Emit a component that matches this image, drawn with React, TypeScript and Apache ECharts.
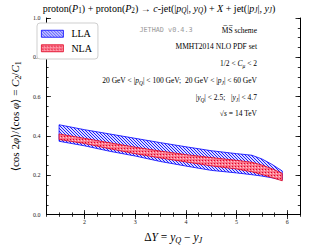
import React, { useEffect, useRef } from 'react';
import * as echarts from 'echarts';

const deltaY = [1.5, 2.0, 2.5, 3.0, 3.5, 4.0, 4.5, 5.0, 5.3, 5.5, 5.7, 5.9];
const llaHigh = [0.457, 0.432, 0.410, 0.388, 0.366, 0.345, 0.325, 0.310, 0.302, 0.283, 0.255, 0.222];
const llaLow = [0.373, 0.350, 0.322, 0.298, 0.270, 0.247, 0.225, 0.212, 0.203, 0.196, 0.187, 0.176];
const nlaHigh = [0.410, 0.388, 0.365, 0.343, 0.323, 0.305, 0.290, 0.276, 0.266, 0.252, 0.233, 0.210];
const nlaLow = [0.382, 0.362, 0.335, 0.310, 0.288, 0.268, 0.248, 0.232, 0.218, 0.204, 0.188, 0.172];
const seriesNames = ['LLA', 'NLA'];
const xMajor = [2, 3, 4, 5, 6];
const yMajor = [0, 0.2, 0.4, 0.6, 0.8, 1.0];
const xMinor = [1.25, 1.5, 1.75, 2, 2.25, 2.5, 2.75, 3, 3.25, 3.5, 3.75, 4, 4.25, 4.5, 4.75, 5, 5.25, 5.5, 5.75, 6, 6.25];
const yMinor = [0, 0.05, 0.1, 0.15, 0.2, 0.25, 0.3, 0.35, 0.4, 0.45, 0.5, 0.55, 0.6, 0.65, 0.7, 0.75, 0.8, 0.85, 0.9, 0.95, 1.0];

const FONT = '"Liberation Serif", "DejaVu Serif", serif';

function makeTile(kind: string): string {
  const c = document.createElement('canvas');
  const n = 3;
  c.width = n; c.height = n;
  const ctx = c.getContext('2d')!;
  if (kind === 'blue') {
    ctx.fillStyle = 'rgb(220,220,255)';
    ctx.fillRect(0, 0, n, n);
    ctx.fillStyle = 'rgb(30,30,255)';
    for (let i = 0; i < n; i++) ctx.fillRect(i, i, 1, 1);
  } else {
    ctx.fillStyle = 'rgb(250,120,140)';
    ctx.fillRect(0, 0, n, n);
    ctx.fillStyle = 'rgb(225,0,40)';
    ctx.fillRect(1, 1, 1, 1);
    ctx.fillStyle = 'rgb(255,200,210)';
    ctx.fillRect(0, 2, 1, 1);
  }
  return c.toDataURL();
}

function richDefs(size: number) {
  const sub = Math.round(size * 0.72 * 10) / 10;
  return {
    i: { fontStyle: 'italic', fontWeight: 'normal', fontSize: size, fontFamily: FONT, color: '#000', fill: '#000', lineHeight: size + 3 },
    r: { fontStyle: 'normal', fontWeight: 'normal', fontSize: size, fontFamily: FONT, color: '#000', fill: '#000', lineHeight: size + 3 },
    s: { fontStyle: 'italic', fontWeight: 'normal', fontSize: sub, fontFamily: FONT, color: '#000', fill: '#000', verticalAlign: 'bottom', lineHeight: sub },
    n: { fontStyle: 'normal', fontWeight: 'normal', fontSize: sub, fontFamily: FONT, color: '#000', fill: '#000', verticalAlign: 'bottom', lineHeight: sub },
  };
}

function annot(text: string, x: number, y: number, size: number, align = 'right') {
  return {
    type: 'text',
    x, y,
    silent: true,
    style: {
      text,
      fontFamily: FONT,
      fontSize: size,
      fontWeight: 'normal',
      fill: '#000',
      lineHeight: size + 3,
      align, textAlign: align,
      verticalAlign: 'middle', textVerticalAlign: 'middle',
      rich: richDefs(size),
    },
  };
}

export default function App() {
  const ref = useRef<HTMLDivElement>(null);
  useEffect(() => {
    if (!ref.current) return;
    const chart = echarts.init(ref.current, undefined, { renderer: 'svg' });
    const blueFill: any = { image: makeTile('blue'), repeat: 'repeat', imageWidth: 3, imageHeight: 3 };
    const redFill: any = { image: makeTile('red'), repeat: 'repeat', imageWidth: 3, imageHeight: 3 };

    const band = (name: string, hi: number[], lo: number[], fill: any, stroke: string) => ({
      type: 'custom',
      name,
      xAxisIndex: 0,
      yAxisIndex: 0,
      data: [[deltaY[0], hi[0]]],
      renderItem: (_p: any, api: any) => {
        const pts: number[][] = [];
        for (let i = 0; i < deltaY.length; i++) pts.push(api.coord([deltaY[i], hi[i]]));
        for (let i = deltaY.length - 1; i >= 0; i--) pts.push(api.coord([deltaY[i], lo[i]]));
        return { type: 'polygon', shape: { points: pts }, style: { fill, stroke, lineWidth: 0.8 } };
      },
      itemStyle: { color: fill, borderColor: stroke },
    });

    const tickLabel = { fontFamily: FONT, fontSize: 6, color: '#222' };
    const baseX = (pos: string, show: boolean, major: boolean) => ({
      type: 'value', position: pos, min: 1.25, max: 6.25,
      axisLine: { show: !major, lineStyle: { color: '#000', width: 1 } },
      axisTick: { show: true, inside: true, length: major ? 4.5 : 2.2, customValues: major ? xMajor : xMinor, lineStyle: { color: '#000', width: 0.8 } },
      axisLabel: show ? { show: true, customValues: xMajor, margin: 4, ...tickLabel } : { show: false },
      splitLine: { show: false },
    });
    const baseY = (pos: string, show: boolean, major: boolean) => ({
      type: 'value', position: pos, min: 0, max: 1,
      axisLine: { show: !major, lineStyle: { color: '#000', width: 1 } },
      axisTick: { show: true, inside: true, length: major ? 4.5 : 2.2, customValues: major ? yMajor : yMinor, lineStyle: { color: '#000', width: 0.8 } },
      axisLabel: show ? { show: true, customValues: yMajor, margin: 6, formatter: (v: number) => v.toFixed(1), ...tickLabel } : { show: false },
      splitLine: { show: false },
    });

    const xAxes: any[] = [
      { ...baseX('bottom', true, false), name: '{r|Δ}{i|Y}{r| = }{i|y}{s|Q}{r| − }{i|y}{s|J}', nameLocation: 'middle', nameGap: 11,
        nameTextStyle: { fontFamily: FONT, fontSize: 11.5, fontWeight: 'normal', color: '#000', lineHeight: 14, rich: richDefs(11.5) } },
      baseX('bottom', false, true),
      baseX('top', false, false),
      baseX('top', false, true),
    ];
    const yAxes: any[] = [
      { ...baseY('left', true, false), name: '{r|⟨cos 2}{i|φ}{r|⟩/⟨cos }{i|φ}{r|⟩ = }{i|C}{n|2}{r|/}{i|C}{n|1}', nameLocation: 'middle', nameGap: 17, nameRotate: 90,
        nameTextStyle: { fontFamily: FONT, fontSize: 11, fontWeight: 'normal', color: '#000', lineHeight: 14, rich: richDefs(11) } },
      baseY('left', false, true),
      baseY('right', false, false),
      baseY('right', false, true),
    ];

    const option: any = {
      animation: false,
      backgroundColor: '#fff',
      grid: { left: 33, right: 16, top: 18, bottom: 31, containLabel: false },
      xAxis: xAxes,
      yAxis: yAxes,
      legend: {
        orient: 'vertical', left: 37, top: 23,
        data: [
          { name: seriesNames[0], icon: 'rect', itemStyle: { color: blueFill, borderColor: '#0000ff', borderWidth: 0.8 } },
          { name: seriesNames[1], icon: 'rect', itemStyle: { color: redFill, borderColor: '#e00020', borderWidth: 0.8 } },
        ],
        itemWidth: 22, itemHeight: 7, itemGap: 3,
        padding: [5, 6, 5, 4],
        backgroundColor: '#fff', borderColor: '#cfcfcf', borderWidth: 1, borderRadius: 3,
        textStyle: { fontFamily: FONT, fontSize: 10, color: '#000', lineHeight: 11.5, padding: [0, 0, 0, 3] },
      },
      series: [
        band(seriesNames[0], llaHigh, llaLow, blueFill, '#0000ff'),
        band(seriesNames[1], nlaHigh, nlaLow, redFill, '#e00020'),
      ],
      graphic: [
        annot('{r|proton(}{i|P}{n|1}{r|) + proton(}{i|P}{n|2}{r|) → }{i|c}{r|-jet(|}{i|p}{s|Q}{r||, }{i|y}{s|Q}{r|) + }{i|X}{r| + jet(|}{i|p}{s|J}{r||, }{i|y}{s|J}{r|)}', 159, 8, 10, 'center'),
        { type: 'text', x: 166, y: 30, silent: true, style: { text: 'JETHAD v0.4.3', fontFamily: '"DejaVu Sans Mono", "Liberation Mono", monospace', fontSize: 6.8, fill: '#9a9a9a', align: 'center', textAlign: 'center', verticalAlign: 'middle', textVerticalAlign: 'middle' } },
        annot('M̅S̅ scheme', 257, 30, 7.5),
        annot('MMHT2014 NLO PDF set', 257, 46, 7.5),
        annot('1/2 < {i|C}{s|μ} < 2', 257, 63, 7.5),
        annot('20 GeV < |{i|p}{s|Q}| < 100 GeV;  20 GeV < |{i|p}{s|J}| < 60 GeV', 257, 80, 7.5),
        annot('|{i|y}{s|Q}| < 2.5;   |{i|y}{s|J}| < 4.7', 257, 97, 7.5),
        annot('√{i|s} = 14 TeV', 257, 113, 7.5),
      ],
    };
    chart.setOption(option);
    return () => chart.dispose();
  }, []);
  return <div ref={ref} style={{ position: 'fixed', left: 0, top: 0, width: 316, height: 249 }} />;
}
